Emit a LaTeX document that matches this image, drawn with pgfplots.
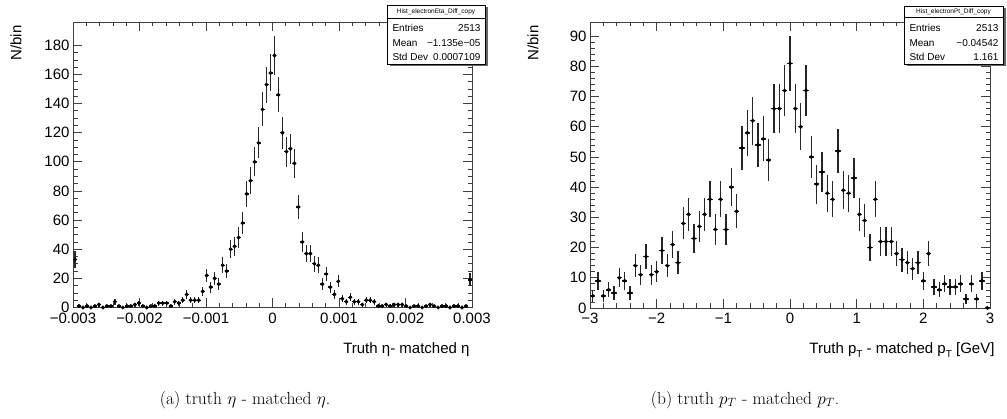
\documentclass[border=0pt]{standalone}
\usepackage{fontspec}
\usepackage{pgfplots}
\usepackage{pgfplotstable}
\pgfplotsset{compat=1.18}
\newfontfamily\helv{Liberation Sans}

\pgfplotstableread{
x y
-29.7 33
-29.1 1
-28.5 0
-27.9 1
-27.3 0
-26.7 1
-26.1 2
-25.5 0
-24.9 1
-24.3 1
-23.7 4
-23.1 1
-22.5 0
-21.9 1
-21.3 1
-20.7 2
-20.1 3
-19.5 1
-18.9 0
-18.3 1
-17.7 1
-17.1 3
-16.5 3
-15.9 3
-15.3 1
-14.7 4
-14.1 3
-13.5 5
-12.9 9
-12.3 5
-11.7 5
-11.1 5
-10.5 11
-9.9 22
-9.3 14
-8.7 20
-8.1 16
-7.5 29
-6.9 25
-6.3 40
-5.7 42
-5.1 48
-4.5 58
-3.9 78
-3.3 87
-2.7 100
-2.1 113
-1.5 136
-0.9 153
-0.3 161
0.3 173
0.9 146
1.5 120
2.1 107
2.7 109
3.3 99
3.9 69
4.5 45
5.1 37
5.7 37
6.3 30
6.9 29
7.5 16
8.1 23
8.7 14
9.3 9
9.9 18
10.5 6
11.1 4
11.7 7
12.3 4
12.9 4
13.5 2
14.1 5
14.7 5
15.3 4
15.9 1
16.5 1
17.1 2
17.7 1
18.3 2
18.9 2
19.5 2
20.1 1
20.7 0
21.3 1
21.9 1
22.5 0
23.1 1
23.7 2
24.3 1
24.9 0
25.5 1
26.1 1
26.7 0
27.3 1
27.9 1
28.5 0
29.1 1
29.7 19
}\etatable

\pgfplotstableread{
x y
-2.96 4
-2.88 9
-2.80 4
-2.72 6
-2.64 5
-2.56 10
-2.48 9
-2.40 5
-2.32 14
-2.24 11
-2.16 17
-2.08 11
-2.00 12
-1.92 19
-1.84 14
-1.76 21
-1.68 15
-1.60 28
-1.52 31
-1.44 23
-1.36 27
-1.28 31
-1.20 36
-1.12 26
-1.04 36
-0.96 26
-0.88 40
-0.80 32
-0.72 53
-0.64 58
-0.56 62
-0.48 54
-0.40 56
-0.32 49
-0.24 66
-0.16 66
-0.08 72
0.00 81
0.08 66
0.16 60
0.24 72
0.32 50
0.40 41
0.48 45
0.56 38
0.64 36
0.72 52
0.80 39
0.88 38
0.96 43
1.04 31
1.12 29
1.20 20
1.28 36
1.36 22
1.44 22
1.52 22
1.60 18
1.68 16
1.76 15
1.84 13
1.92 15
2.00 9
2.08 18
2.16 7
2.24 6
2.32 8
2.40 7
2.48 7
2.56 8
2.64 3
2.72 8
2.80 3
2.88 9
2.96 0
}\pttable

\pgfplotsset{
  rootaxis/.style={
    scale only axis,
    anchor=south west,
    axis line style={line width=0.8pt, black!75},
    every tick/.style={line width=0.7pt, black!75},
    major tick length=9pt,
    minor tick length=4.5pt,
    tick align=inside,
    ticklabel style={font=\helv\fontsize{15}{15}\selectfont},
    /pgf/number format/assume math mode=true,
    xticklabel style={yshift=-2pt},
    ymin=0,
  },
  rootdata/.style={
    black, only marks, mark=*, mark size=1.8pt,
    error bars/.cd,
      y dir=both, y explicit,
      x dir=both, x fixed=#1,
      error mark=none,
      error bar style={line width=1.4pt, black!85},
  },
}

\begin{document}
\begin{tikzpicture}
\useasboundingbox (0pt,0pt) rectangle (1007pt,419pt);

% ---------- left: eta ----------
\begin{axis}[rootaxis,
  at={(73pt,111.5pt)}, width=399pt, height=285.5pt,
  xmin=-30, xmax=30, ymax=196,
  xtick={-30,-20,-10,0,10,20,30},
  xticklabels={−0.003,−0.002,−0.001,0,0.001,0.002,0.003},
  minor x tick num=4,
  ytick={0,20,...,180}, minor y tick num=3,
]
\addplot[rootdata=0.3] table[x=x, y=y, y error expr={sqrt(\thisrow{y})}] {\etatable};
\end{axis}

% ---------- right: pT ----------
\begin{axis}[rootaxis,
  at={(590pt,111pt)}, width=400pt, height=286pt,
  xmin=-3, xmax=3, ymax=94.7,
  xtick={-3,-2,-1,0,1,2,3},
  xticklabels={−3,−2,−1,0,1,2,3},
  minor x tick num=4,
  ytick={0,10,...,90}, minor y tick num=4,
]
\addplot[rootdata=0.04] table[x=x, y=y, y error expr={sqrt(\thisrow{y})}] {\pttable};
\end{axis}

% axis titles
\node[rotate=90, anchor=east, font=\helv\fontsize{15}{15}\selectfont] at (16pt,397pt) {N/bin};
\node[rotate=90, anchor=east, font=\helv\fontsize{15}{15}\selectfont] at (533pt,397pt) {N/bin};
\node[anchor=east, font=\helv\fontsize{15}{15}\selectfont] at (473pt,69pt) {Truth η- matched η};
\node[anchor=east, font=\helv\fontsize{15}{15}\selectfont] at (998pt,69pt)
  {Truth p\raisebox{-0.55ex}{\fontsize{10}{10}\selectfont T} - matched p\raisebox{-0.55ex}{\fontsize{10}{10}\selectfont T} [GeV]};

% stat box left
\fill[black!60] (389.5pt,352.5pt) rectangle (487.5pt,411.5pt);
\draw[fill=white, line width=0.6pt] (387pt,355pt) rectangle (485pt,414pt);
\draw[line width=0.6pt] (387pt,401pt) -- (485pt,401pt);
\node[font=\helv\fontsize{6.5}{6.5}\selectfont] at (436pt,407.5pt) {Hist\_electronEta\_Diff\_copy};
\node[anchor=west, font=\helv\fontsize{10}{10}\selectfont] at (389pt,391pt) {Entries};
\node[anchor=east, font=\helv\fontsize{10}{10}\selectfont] at (484pt,391pt) {2513};
\node[anchor=west, font=\helv\fontsize{10}{10}\selectfont] at (389pt,376pt) {Mean};
\node[anchor=east, font=\helv\fontsize{10}{10}\selectfont] at (484pt,376pt) {−1.135e−05};
\node[anchor=west, font=\helv\fontsize{10}{10}\selectfont] at (389pt,362pt) {Std Dev};
\node[anchor=east, font=\helv\fontsize{10}{10}\selectfont] at (484pt,362pt) {0.0007109};

% stat box right
\fill[black!60] (906.5pt,352.5pt) rectangle (1005.5pt,410.5pt);
\draw[fill=white, line width=0.6pt] (904pt,355pt) rectangle (1003pt,413pt);
\draw[line width=0.6pt] (904pt,401.5pt) -- (1003pt,401.5pt);
\node[font=\helv\fontsize{6.5}{6.5}\selectfont] at (953.5pt,407.3pt) {Hist\_electronPt\_Diff\_copy};
\node[anchor=west, font=\helv\fontsize{10}{10}\selectfont] at (906pt,391pt) {Entries};
\node[anchor=east, font=\helv\fontsize{10}{10}\selectfont] at (1002pt,391pt) {2513};
\node[anchor=west, font=\helv\fontsize{10}{10}\selectfont] at (906pt,376pt) {Mean};
\node[anchor=east, font=\helv\fontsize{10}{10}\selectfont] at (1002pt,376pt) {−0.04542};
\node[anchor=west, font=\helv\fontsize{10}{10}\selectfont] at (906pt,362pt) {Std Dev};
\node[anchor=east, font=\helv\fontsize{10}{10}\selectfont] at (1002pt,362pt) {1.161};

% captions
\node[font=\fontsize{17.5}{20}\selectfont] at (245pt,19pt) {(a) truth $\eta$ - matched $\eta$.};
\node[font=\fontsize{17.5}{20}\selectfont] at (745pt,19pt) {(b) truth $p_T$ - matched $p_T$.};
\end{tikzpicture}
\end{document}
